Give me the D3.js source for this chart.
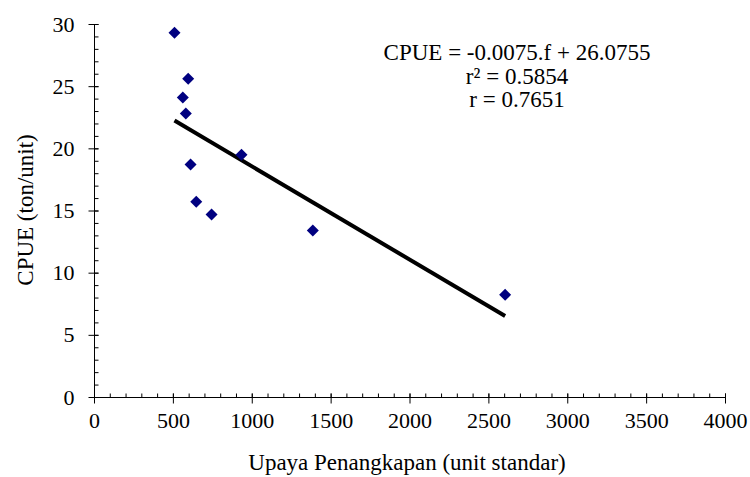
<!DOCTYPE html>
<html>
<head>
<script src="https://d3js.org/d3.v7.min.js"></script>
<style>
  body { margin: 0; background: #fff; }
  svg text { font-family: "Liberation Serif", "Times New Roman", serif; fill: #000; }
</style>
</head>
<body>
<svg id="chart" width="750" height="477"></svg>
<script>
// data
var effort = [507, 594, 560, 579, 609, 645, 742, 932, 1384, 2603];
var cpue   = [29.33, 25.63, 24.13, 22.84, 18.74, 15.74, 14.72, 19.52, 13.43, 8.26];
var slope = -0.0075, intercept = 26.0755;
var eqLines = ["CPUE = -0.0075.f + 26.0755", "r\u00B2 = 0.5854", "r = 0.7651"];
var xTicks = [0, 500, 1000, 1500, 2000, 2500, 3000, 3500, 4000];
var yTicks = [0, 5, 10, 15, 20, 25, 30];

var svg = d3.select("#chart");
var x = d3.scaleLinear([0, 4000], [94.5, 725.5]);
var y = d3.scaleLinear([0, 30], [397.5, 24.5]);

var axisG = svg.append("g").attr("stroke", "#000").attr("stroke-width", 1);

// axis lines
axisG.append("line").attr("x1", x(0)).attr("x2", x(4000)).attr("y1", y(0)).attr("y2", y(0));
axisG.append("line").attr("x1", x(0)).attr("x2", x(0)).attr("y1", y(0)).attr("y2", y(30));

// minor ticks (inside)
axisG.selectAll(".xm").data(d3.range(100, 4001, 100)).enter().append("line")
  .attr("x1", d => x(d)).attr("x2", d => x(d)).attr("y1", y(0)).attr("y2", y(0) - 4);
axisG.selectAll(".ym").data(d3.range(1, 31, 1)).enter().append("line")
  .attr("y1", d => y(d)).attr("y2", d => y(d)).attr("x1", x(0)).attr("x2", x(0) + 4);

// major ticks (crossing)
axisG.selectAll(".xM").data(xTicks).enter().append("line")
  .attr("x1", d => x(d)).attr("x2", d => x(d)).attr("y1", y(0) - 4).attr("y2", y(0) + 6);
axisG.selectAll(".yM").data(yTicks).enter().append("line")
  .attr("y1", d => y(d)).attr("y2", d => y(d)).attr("x1", x(0) - 6).attr("x2", x(0) + 4);

// tick labels
svg.selectAll(".xl").data(xTicks).enter().append("text")
  .attr("x", d => x(d)).attr("y", y(0) + 30)
  .attr("text-anchor", "middle").attr("font-size", 22).text(d => d);
svg.selectAll(".yl").data(yTicks).enter().append("text")
  .attr("x", x(0) - 20).attr("y", d => y(d) + 7)
  .attr("text-anchor", "end").attr("font-size", 22).text(d => d);

// axis titles
svg.append("text").attr("x", 407).attr("y", 470).attr("text-anchor", "middle")
  .attr("font-size", 23).text("Upaya Penangkapan (unit standar)");
svg.append("text").attr("transform", "translate(33,210) rotate(-90)").attr("text-anchor", "middle")
  .attr("font-size", 23).text("CPUE (ton/unit)");

// regression line
var xr = d3.extent(effort);
svg.append("line")
  .attr("x1", x(xr[0])).attr("y1", y(slope * xr[0] + intercept))
  .attr("x2", x(xr[1])).attr("y2", y(slope * xr[1] + intercept))
  .attr("stroke", "#000").attr("stroke-width", 4);

// points
var sym = d3.symbol().type(d3.symbolSquare).size(72);
svg.selectAll(".pt").data(effort).enter().append("path")
  .attr("d", sym)
  .attr("transform", (d, i) => "translate(" + x(d) + "," + y(cpue[i]) + ") rotate(45)")
  .attr("fill", "#000080");

// equation
svg.selectAll(".eq").data(eqLines).enter().append("text")
  .attr("x", 517).attr("y", (d, i) => 60 + i * 23.5)
  .attr("text-anchor", "middle").attr("font-size", 23).text(d => d);
</script>
</body>
</html>
